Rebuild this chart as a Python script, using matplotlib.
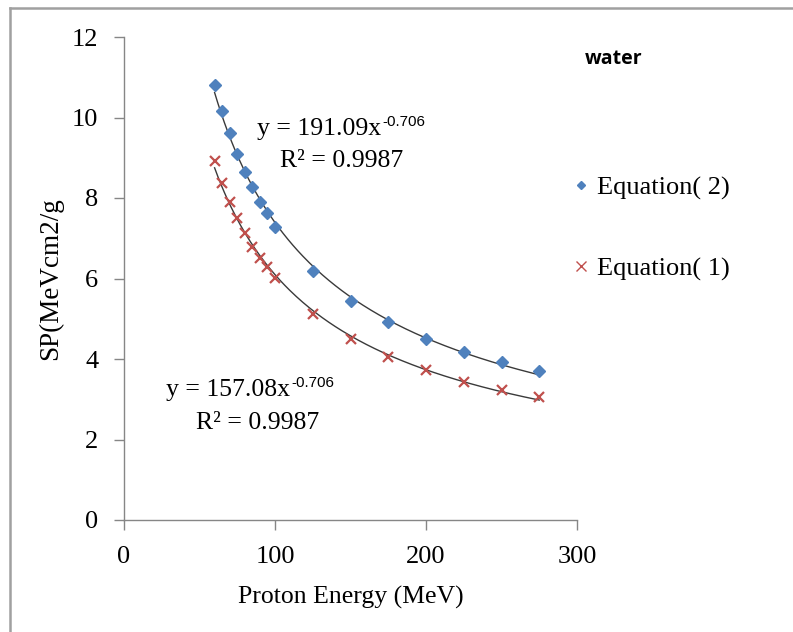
import matplotlib
matplotlib.use("Agg")
import matplotlib.pyplot as plt
from matplotlib.lines import Line2D
import numpy as np

# data
energy = [60, 65, 70, 75, 80, 85, 90, 95, 100, 125, 150, 175, 200, 225, 250, 275]
sp_eq2 = [10.81, 10.17, 9.61, 9.09, 8.65, 8.28, 7.91, 7.62, 7.28,
          6.19, 5.45, 4.91, 4.49, 4.17, 3.92, 3.69]
sp_eq1 = [8.93, 8.38, 7.91, 7.50, 7.13, 6.79, 6.52, 6.28, 6.02,
          5.12, 4.49, 4.06, 3.73, 3.42, 3.23, 3.06]
eq2_label = "Equation( 2)"
eq1_label = "Equation( 1)"
eq2_fit_text = ["y = 191.09x", "-0.706", "R\u00b2 = 0.9987"]
eq1_fit_text = ["y = 157.08x", "-0.706", "R\u00b2 = 0.9987"]

blue = "#4F81BD"
red = "#C0504D"
grey = "#868686"

plt.rcParams["font.family"] = ["Liberation Serif", "DejaVu Serif"]

fig = plt.figure(figsize=(7.93, 6.32), dpi=100)
ax = fig.add_axes([124 / 793, 112 / 632, 453 / 793, 483 / 632])


def power_fit(x, y):
    b, ln_a = np.polyfit(np.log(x), np.log(y), 1)
    xs = np.linspace(min(x), max(x), 200)
    return xs, np.exp(ln_a) * xs ** b


for ys in (sp_eq2, sp_eq1):
    xs, fit = power_fit(energy, ys)
    ax.plot(xs, fit, color="#3a3a3a", lw=1.0, zorder=2)

ax.plot(energy, sp_eq2, ls="none", marker="D", ms=5.8, color=blue,
        mec=blue, zorder=3)
ax.plot(energy, sp_eq1, ls="none", marker="x", ms=7.5, mew=1.6, color=red,
        zorder=3)

ax.set_xlim(0, 300)
ax.set_ylim(0, 12)
ax.set_xticks([0, 100, 200, 300])
ax.set_yticks([0, 2, 4, 6, 8, 10, 12])
for s in ("top", "right"):
    ax.spines[s].set_visible(False)
for s in ("left", "bottom"):
    ax.spines[s].set_color(grey)
    ax.spines[s].set_linewidth(1.0)
ax.tick_params(colors=grey, labelcolor="black", labelsize=19, length=7.5,
               width=1.0, direction="out", pad=11)

ax.set_xlabel("Proton Energy (MeV)", fontsize=18.5, labelpad=13)
ax.set_ylabel("SP(MeVcm2/g", fontsize=19.5, labelpad=6)

fig.canvas.draw()


def eq_text(x, y, base, sup, r2, r2_x, r2_y):
    t = ax.text(x, y, base, fontsize=18.5, ha="left", va="center")
    bb = t.get_window_extent(renderer=fig.canvas.get_renderer())
    ax.annotate(sup, xy=(bb.x1 + 1, bb.y1 + 3), xycoords="figure pixels",
                family="Liberation Sans", fontsize=11, ha="left", va="top")
    ax.text(r2_x, r2_y, r2, fontsize=18.5, ha="left", va="center")


eq_text(88, 9.72, eq2_fit_text[0], eq2_fit_text[1], eq2_fit_text[2], 103, 8.93)
eq_text(28, 3.22, eq1_fit_text[0], eq1_fit_text[1], eq1_fit_text[2], 48, 2.4)

fig.text(585 / 793, 1 - 59 / 632, "water", family="Open Sans",
         fontweight="bold", fontsize=14, ha="left", va="center")

handles = [
    Line2D([], [], ls="none", marker="D", ms=4.2, color=blue),
    Line2D([], [], ls="none", marker="x", ms=7, mew=1.0, color=red),
]
fig.legend(handles, [eq2_label, eq1_label], loc="upper left",
           bbox_to_anchor=(573 / 793, 1 - 176 / 632), frameon=False,
           fontsize=19, handlelength=0.6, handletextpad=0.3,
           labelspacing=2.15, borderpad=0, borderaxespad=0)

# outer frame of the chart area
fig.add_artist(Line2D([10 / 793, 10 / 793], [0, 1 - 8 / 632],
                      transform=fig.transFigure, color="#a0a0a0", lw=1.8))
fig.add_artist(Line2D([10 / 793, 1], [1 - 8 / 632, 1 - 8 / 632],
                      transform=fig.transFigure, color="#a0a0a0", lw=1.8))

fig.savefig("out.png", dpi=100)
